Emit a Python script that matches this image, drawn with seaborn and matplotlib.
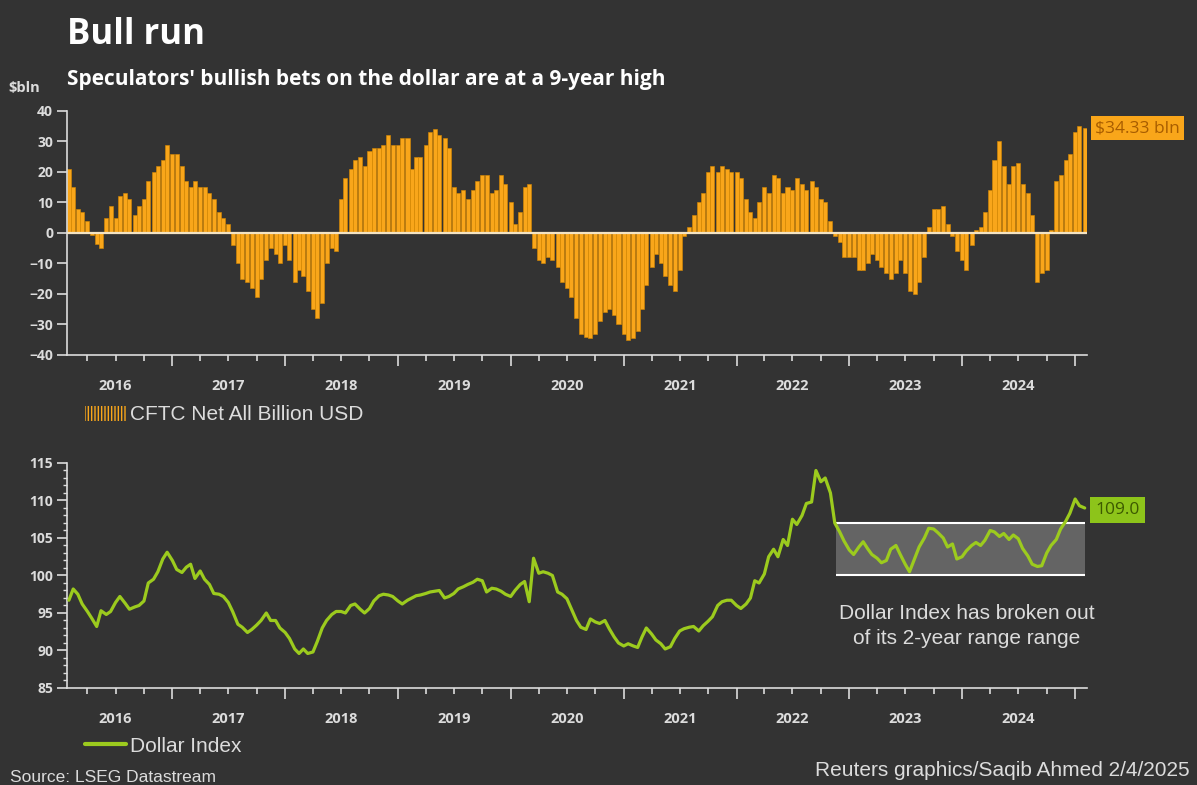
import pandas as pd
import seaborn as sns
import matplotlib.pyplot as plt
import matplotlib.dates as mdates
from matplotlib.ticker import MultipleLocator, FuncFormatter, NullFormatter
from matplotlib.patches import Rectangle, Patch
from matplotlib.lines import Line2D

# Readings on the 1st and 15th of each month, starting Feb 2016
start_date = '2016-02-01'

# CFTC net positioning on the dollar, $bln
cftc_net = [
    21, 15, 8, 7, 4, -0.5, -3.5, -5, 5, 9, 5, 12,
    13, 11, 6, 9, 11, 17, 20, 22, 24, 29, 26, 26,
    22, 17, 15, 17, 15, 15, 13, 11, 7, 5, 3, -4,
    -10, -15, -16, -18, -21, -15, -9, -5, -7, -10, -4, -9,
    -16, -12, -14, -19, -25, -28, -23, -10, -5, -6, 11, 18,
    21, 24, 25, 22, 27, 28, 28, 29, 32, 29, 29, 31,
    31, 21, 25, 25, 29, 33, 34, 32, 31, 28, 15, 13,
    14, 11, 14, 17, 19, 19, 13, 14, 19, 16, 10, 3,
    7, 15, 16, -5, -9, -10, -8, -9, -11, -16, -18, -21,
    -28, -33, -34, -34.5, -33, -29, -26, -25, -27, -30, -33, -35,
    -34.5, -32, -25, -17, -11, -7, -10, -14, -17, -19, -12, -1,
    2, 6, 10, 13, 20, 22, 20, 22, 21, 20, 20, 18,
    11, 7, 5, 10, 15, 13, 19, 18, 13, 15, 14, 18,
    16, 14, 17, 15, 11, 10, 4, -1, -3, -8, -8, -8,
    -12, -12, -10, -7, -9, -11, -13, -15, -13, -9, -13, -19,
    -20, -16, -8, 2, 8, 8, 9, 3, -1, -6, -9, -12,
    -4, 1, 2, 7, 14, 24, 30, 22, 16, 22, 23, 16,
    13, 6, -16, -13, -12, 1, 17, 19, 24, 26, 33, 35,
    34.33,
]

# ICE Dollar Index
dollar_index = [
    96.7, 98.2, 97.5, 96.2, 95.2, 94.3, 93.2, 95.3, 94.8, 95.2, 96.4, 97.2,
    96.3, 95.5, 95.8, 96.0, 96.6, 99.0, 99.5, 100.5, 102.2, 103.1, 102.0, 100.8,
    100.4, 101.1, 101.5, 99.6, 100.6, 99.5, 98.8, 97.6, 97.5, 97.2, 96.4, 95.2,
    93.5, 93.1, 92.4, 92.8, 93.4, 94.0, 95.0, 94.0, 94.0, 93.0, 92.4, 91.6,
    90.2, 89.6, 90.2, 89.6, 89.8, 91.2, 93.0, 94.0, 94.8, 95.2, 95.2, 95.0,
    96.0, 96.2, 95.5, 95.0, 95.6, 96.6, 97.3, 97.5, 97.4, 97.2, 96.6, 96.2,
    96.7, 97.0, 97.3, 97.4, 97.6, 97.8, 97.9, 98.0, 97.0, 97.2, 97.6, 98.2,
    98.5, 98.8, 99.1, 99.5, 99.3, 97.8, 98.3, 98.2, 97.9, 97.5, 97.2, 98.0,
    98.8, 99.2, 96.5, 102.3, 100.3, 100.5, 100.3, 100.0, 97.8, 97.5, 96.9, 95.6,
    94.0, 93.1, 92.8, 94.2, 93.8, 93.6, 94.0, 92.9, 91.8, 91.0, 90.6, 90.9,
    90.6, 90.4, 91.8, 93.0, 92.2, 91.4, 90.9, 90.2, 90.5, 91.6, 92.6, 92.9,
    93.1, 93.2, 92.6, 93.3, 93.9, 94.5, 96.0, 96.5, 96.7, 96.7, 96.0, 95.6,
    96.2, 97.0, 99.3, 99.0, 100.2, 102.5, 103.5, 102.5, 104.8, 104.0, 107.5, 106.8,
    108.0, 109.6, 109.8, 114.0, 112.5, 113.0, 111.0, 107.0, 105.8, 104.6, 103.4, 102.8,
    103.8, 104.5, 103.6, 102.8, 102.3, 101.7, 102.0, 103.5, 104.0, 102.8, 101.5, 100.5,
    102.3, 103.8, 105.0, 106.3, 106.2, 105.7, 105.0, 103.8, 104.2, 102.2, 102.5, 103.3,
    104.0, 104.4, 104.0, 104.7, 106.0, 105.8, 105.2, 105.6, 104.8, 105.4, 104.9, 103.6,
    102.6, 101.5, 101.2, 101.3, 103.0, 104.0, 104.8, 106.2, 107.2, 108.3, 110.2, 109.3,
    109.0,
]

# 2-year trading range of the dollar index
range_low = 100
range_high = 107
range_start = '2022-11-18'
range_end = '2025-02-03'

BG = '#333333'
FG = '#DCDCDC'
ORANGE = '#F9A61A'
GREEN = '#9CCB1E'

dates = pd.date_range(start_date, periods=len(cftc_net), freq='SMS')

sns.set_theme(style='ticks', rc={
    'figure.facecolor': BG, 'axes.facecolor': BG, 'axes.edgecolor': FG,
    'xtick.color': FG, 'ytick.color': FG, 'text.color': FG,
})
plt.rcParams['font.family'] = ['Open Sans', 'DejaVu Sans']

fig = plt.figure(figsize=(11.97, 7.85), dpi=100)
ax1 = fig.add_axes([0.056, 0.5478, 0.852, 0.3108])
ax2 = fig.add_axes([0.056, 0.1236, 0.852, 0.2866])


def year_label(x, pos):
    d = mdates.num2date(x)
    return str(d.year) if d.month == 7 else ''


for ax in (ax1, ax2):
    ax.set_xlim(pd.Timestamp('2016-01-26'), pd.Timestamp('2025-02-08'))
    ax.xaxis.set_major_locator(mdates.YearLocator())
    ax.xaxis.set_major_formatter(NullFormatter())
    ax.xaxis.set_minor_locator(mdates.MonthLocator(bymonth=[4, 7, 10]))
    ax.xaxis.set_minor_formatter(FuncFormatter(year_label))
    ax.tick_params(axis='x', which='major', length=8, width=1.2, color=FG)
    ax.tick_params(axis='x', which='minor', length=4, width=1.2, color=FG,
                   pad=13, labelsize=10.5, labelcolor=FG)
    ax.tick_params(axis='y', which='major', length=7, width=1.2, color=FG,
                   labelsize=10, labelcolor=FG, pad=3)
    ax.spines[['top', 'right']].set_visible(False)
    ax.spines[['left', 'bottom']].set_linewidth(1.2)

# Top: CFTC bars
ax1.bar(dates, cftc_net, width=13, color=ORANGE, edgecolor='#D98A00',
        linewidth=0.4, zorder=2)
ax1.axhline(0, color='#F3E3C3', lw=1.6, zorder=3)
ax1.set_ylim(-40, 40)
ax1.yaxis.set_major_locator(MultipleLocator(10))
ax1.annotate(f'${cftc_net[-1]:.2f} bln', xy=(1.0, cftc_net[-1]),
             xycoords=ax1.get_yaxis_transform(), xytext=(6, 0),
             textcoords='offset points', ha='left', va='center',
             fontsize=12.5, color='#A85D00', annotation_clip=False,
             bbox=dict(boxstyle='square,pad=0.22', fc=ORANGE, ec='none'))

# Bottom: dollar index line
x0 = mdates.date2num(pd.Timestamp(range_start))
x1 = mdates.date2num(pd.Timestamp(range_end))
ax2.add_patch(Rectangle((x0, range_low), x1 - x0, range_high - range_low,
                        fc='#646464', ec='none', zorder=1))
ax2.hlines([range_low, range_high], x0, x1, color='white', lw=1.5, zorder=2)
sns.lineplot(x=dates, y=dollar_index, ax=ax2, color=GREEN, lw=2.3, zorder=3)
ax2.set_ylim(85, 115)
ax2.yaxis.set_major_locator(MultipleLocator(5))
ax2.yaxis.set_minor_locator(MultipleLocator(1))
ax2.tick_params(axis='y', which='minor', length=3, width=1, color=FG)
ax2.set_xlabel('')
ax2.set_ylabel('')
ax2.annotate(f'{dollar_index[-1]:.1f}', xy=(1.0, 108.7),
             xycoords=ax2.get_yaxis_transform(), xytext=(6, 0),
             textcoords='offset points', ha='left', va='center',
             fontsize=12.5, color='#3C5A00', annotation_clip=False,
             bbox=dict(boxstyle='square,pad=0.3', fc='#8DC41A', ec='none'))
ax2.text(0.882, 93.3, 'Dollar Index has broken out\nof its 2-year range range',
         transform=ax2.get_yaxis_transform(), ha='center', va='center',
         fontsize=15, color=FG, family=['Liberation Sans', 'DejaVu Sans'],
         linespacing=1.4)

for ax in (ax1, ax2):
    plt.setp(ax.get_xticklabels(minor=True), fontweight='bold')
    plt.setp(ax.get_yticklabels(), fontweight='bold')

# Legends
leg_font = {'family': ['Liberation Sans', 'DejaVu Sans'], 'size': 15}
fig.legend(handles=[Patch(facecolor=BG, edgecolor=ORANGE, hatch='|||||', lw=0,
                          label='CFTC Net All Billion USD')],
           loc='center left', bbox_to_anchor=(0.055, 1 - 415 / 785),
           frameon=False, prop=leg_font, labelcolor=FG,
           handlelength=2.0, handleheight=0.7, handletextpad=0.2)
fig.legend(handles=[Line2D([0], [0], color=GREEN, lw=3, label='Dollar Index')],
           loc='center left', bbox_to_anchor=(0.055, 1 - 746 / 785),
           frameon=False, prop=leg_font, labelcolor=FG,
           handlelength=2.0, handletextpad=0.2)

# Titles and footer
fig.text(67 / 1197, 1 - 35 / 785, 'Bull run', fontsize=25, fontweight='bold',
         color='white', va='center')
fig.text(67 / 1197, 1 - 80 / 785,
         "Speculators' bullish bets on the dollar are at a 9-year high",
         fontsize=15, fontweight='bold', color='white', va='center')
fig.text(8 / 1197, 1 - 88 / 785, '$bln', fontsize=10.5, fontweight='bold',
         color=FG, va='center')
fig.text(10 / 1197, 1 - 777 / 785, 'Source: LSEG Datastream', fontsize=12.5,
         color=FG, va='center', family=['Liberation Sans', 'DejaVu Sans'])
fig.text(1190 / 1197, 1 - 771 / 785, 'Reuters graphics/Saqib Ahmed 2/4/2025',
         fontsize=15, color=FG, va='center', ha='right',
         family=['Liberation Sans', 'DejaVu Sans'])

fig.savefig('out.png', dpi=100, facecolor=BG)
